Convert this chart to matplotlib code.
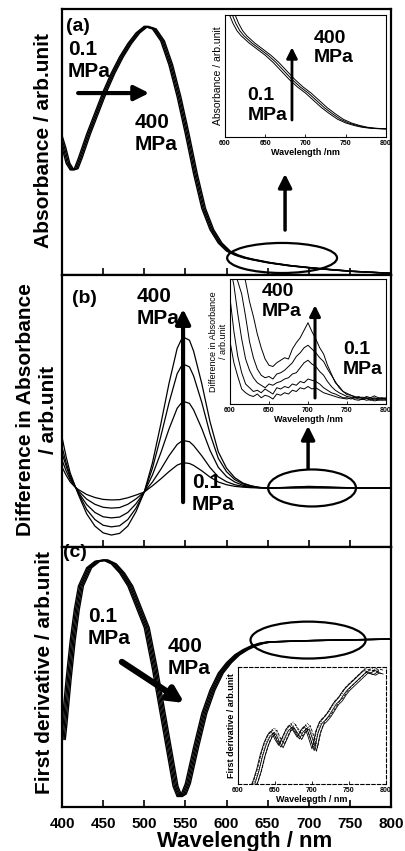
import numpy as np
import matplotlib
matplotlib.use("Agg")
import matplotlib.pyplot as plt
from matplotlib.patches import Ellipse

plt.rcParams['font.family'] = ['Liberation Sans', 'DejaVu Sans']
plt.rcParams['font.weight'] = 'bold'

# (a) absorbance spectrum at 0.1 MPa (arb. units)
wl_a = [395, 400, 405, 410, 415, 420, 430, 440, 450, 460, 470, 480, 490, 500,
        510, 520, 530, 540, 550, 560, 570, 580, 590, 600, 610, 620, 630, 640,
        650, 675, 700, 725, 750, 775, 800]
abs_a = [0.53, 0.48, 0.42, 0.395, 0.40, 0.44, 0.53, 0.61, 0.69, 0.76, 0.82,
         0.87, 0.91, 0.935, 0.925, 0.88, 0.79, 0.67, 0.53, 0.38, 0.25, 0.17,
         0.12, 0.09, 0.075, 0.065, 0.058, 0.052, 0.046, 0.035, 0.027, 0.02,
         0.014, 0.01, 0.006]
# red shift (nm) of each pressure step, 0.1 -> 400 MPa
shift_a = [0, 1.5, 3, 4.5]

# (a) inset, 600-800 nm tail
wl_a_ins = [600, 605, 610, 615, 620, 630, 640, 650, 660, 670, 680, 690, 700,
            710, 720, 730, 740, 750, 760, 770, 780, 790, 800]
abs_a_ins = [1.10, 1.01, 0.93, 0.87, 0.83, 0.77, 0.72, 0.67, 0.61, 0.54, 0.47,
             0.41, 0.36, 0.30, 0.24, 0.19, 0.145, 0.115, 0.095, 0.08, 0.072,
             0.068, 0.066]
shift_a_ins = [0, 3.5, 7]

# (b) difference spectra, one row per pressure step (400 MPa first)
wl_b = [400, 405, 410, 415, 420, 430, 440, 450, 460, 470, 480, 490, 500, 510,
        520, 530, 540, 545, 550, 555, 560, 570, 580, 590, 600, 610, 620, 630,
        640, 650, 670, 700, 730, 760, 800]
diff_b_p5 = [0.187, 0.115, 0.055, 0.015, -0.025, -0.095, -0.140, -0.165, -0.173,
             -0.167, -0.140, -0.087, -0.015, 0.093, 0.233, 0.383, 0.513, 0.545,
             0.551, 0.543, 0.503, 0.383, 0.243, 0.133, 0.073, 0.038, 0.018,
             0.008, 0.002, 0.0, 0.002, 0.006, 0.003, 0.0, 0.0]
diff_b_p4 = [0.151, 0.093, 0.045, 0.012, -0.020, -0.079, -0.116, -0.137, -0.143,
             -0.139, -0.116, -0.074, -0.015, 0.073, 0.188, 0.312, 0.420, 0.447,
             0.452, 0.445, 0.412, 0.314, 0.199, 0.109, 0.060, 0.031, 0.015,
             0.007, 0.002, 0.0, 0.0015, 0.0045, 0.002, 0.0, 0.0]
diff_b_p3 = [0.129, 0.080, 0.038, 0.010, -0.016, -0.061, -0.090, -0.106, -0.110,
             -0.107, -0.090, -0.058, -0.015, 0.048, 0.128, 0.216, 0.293, 0.312,
             0.316, 0.311, 0.287, 0.218, 0.138, 0.076, 0.042, 0.022, 0.010,
             0.005, 0.001, 0.0, 0.001, 0.003, 0.0015, 0.0, 0.0]
diff_b_p2 = [0.103, 0.063, 0.030, 0.008, -0.011, -0.041, -0.060, -0.071, -0.074,
             -0.072, -0.060, -0.040, -0.015, 0.022, 0.068, 0.118, 0.160, 0.171,
             0.173, 0.170, 0.156, 0.118, 0.075, 0.041, 0.023, 0.012, 0.006,
             0.003, 0.001, 0.0, 0.0005, 0.0015, 0.001, 0.0, 0.0]
diff_b_p1 = [0.077, 0.047, 0.022, 0.006, -0.006, -0.024, -0.035, -0.042, -0.044,
             -0.043, -0.036, -0.026, -0.015, 0.008, 0.033, 0.060, 0.084, 0.090,
             0.092, 0.090, 0.083, 0.063, 0.040, 0.022, 0.012, 0.006, 0.003,
             0.001, 0.0, 0.0, 0.0, 0.0005, 0.0, 0.0, 0.0]

# (b) inset, 600-800 nm
wl_b_ins = list(range(600, 801, 5))
diff_b_ins_p5 = [1.30, 1.25, 1.18, 1.10, 0.98, 0.82, 0.70, 0.56, 0.45, 0.36, 0.31,
                 0.30, 0.33, 0.35, 0.37, 0.36, 0.44, 0.49, 0.53, 0.59, 0.65, 0.58,
                 0.52, 0.45, 0.40, 0.31, 0.24, 0.17, 0.14, 0.10, 0.075, 0.07,
                 0.055, 0.05, 0.045, 0.06, 0.05, 0.065, 0.05, 0.045, 0.05]
diff_b_ins_p4 = [1.20, 1.10, 0.98, 0.88, 0.70, 0.50, 0.37, 0.28, 0.23, 0.21, 0.22,
                 0.20, 0.24, 0.25, 0.27, 0.30, 0.33, 0.38, 0.41, 0.45, 0.47, 0.44,
                 0.41, 0.37, 0.34, 0.28, 0.23, 0.18, 0.13, 0.10, 0.085, 0.07,
                 0.06, 0.05, 0.055, 0.045, 0.05, 0.04, 0.045, 0.05, 0.04]
diff_b_ins_p3 = [1.10, 0.95, 0.72, 0.52, 0.36, 0.27, 0.21, 0.17, 0.15, 0.13, 0.16,
                 0.15, 0.17, 0.18, 0.20, 0.21, 0.24, 0.25, 0.29, 0.33, 0.35, 0.32,
                 0.30, 0.26, 0.23, 0.18, 0.14, 0.11, 0.09, 0.075, 0.06, 0.055,
                 0.05, 0.06, 0.045, 0.05, 0.04, 0.05, 0.04, 0.045, 0.04]
diff_b_ins_p2 = [0.85, 0.58, 0.38, 0.25, 0.16, 0.13, 0.10, 0.11, 0.09, 0.12, 0.10,
                 0.08, 0.13, 0.12, 0.14, 0.13, 0.16, 0.15, 0.18, 0.17, 0.20, 0.19,
                 0.18, 0.16, 0.13, 0.11, 0.09, 0.08, 0.065, 0.05, 0.05, 0.04,
                 0.05, 0.04, 0.035, 0.045, 0.03, 0.04, 0.035, 0.03, 0.035]
diff_b_ins_p1 = [0.50, 0.33, 0.22, 0.12, 0.09, 0.07, 0.06, 0.08, 0.05, 0.07, 0.06,
                 0.04, 0.08, 0.07, 0.09, 0.08, 0.11, 0.10, 0.13, 0.12, 0.14, 0.12,
                 0.13, 0.11, 0.09, 0.08, 0.07, 0.06, 0.05, 0.045, 0.04, 0.05,
                 0.035, 0.03, 0.04, 0.03, 0.035, 0.025, 0.03, 0.035, 0.03]

# (c) first derivative at 0.1 MPa
wl_c = [398, 400, 405, 410, 415, 420, 430, 440, 450, 460, 470, 480, 490, 500,
        510, 520, 530, 535, 540, 545, 550, 560, 570, 580, 590, 600, 610, 620,
        630, 640, 650, 700, 750, 800]
der_c = [0.26, 0.32, 0.49, 0.64, 0.76, 0.85, 0.92, 0.945, 0.95, 0.935, 0.90,
         0.85, 0.77, 0.69, 0.53, 0.35, 0.17, 0.08, 0.04, 0.05, 0.09, 0.23, 0.36,
         0.45, 0.515, 0.555, 0.585, 0.605, 0.62, 0.63, 0.635, 0.64, 0.643,
         0.646]
shift_c = [0, 1.5, 3, 4.5, 6]

# (c) inset, 615-790 nm
wl_c_ins = [615, 620, 625, 630, 635, 640, 645, 650, 655, 660, 665, 670, 675,
            680, 685, 690, 695, 700, 705, 710, 715, 720, 725, 730, 735, 740,
            745, 750, 755, 760, 765, 770, 775, 780, 785, 790]
der_c_ins = [-0.05, 0.02, 0.12, 0.25, 0.35, 0.42, 0.45, 0.38, 0.33, 0.40, 0.47,
             0.50, 0.45, 0.40, 0.46, 0.49, 0.40, 0.30, 0.45, 0.53, 0.56, 0.60,
             0.65, 0.70, 0.73, 0.78, 0.82, 0.85, 0.88, 0.91, 0.94, 0.97, 0.96,
             0.95, 0.97, 0.96]
shift_c_ins = [0, 1.5, 3, 4.5, 6, 7.5]
offset_c_ins = [0.0, 0.015, -0.015, 0.03, -0.02, 0.01]
style_c_ins = ['-', '--', '-', ':', '-', '--']

xticks = [400, 450, 500, 550, 600, 650, 700, 750, 800]
ins_ticks = [600, 650, 700, 750, 800]

W, H = 406, 851


def box(x0, y0, x1, y1):
    # pixel box (left, top, right, bottom) -> figure fraction rect
    return [x0 / W, 1 - y1 / H, (x1 - x0) / W, (y1 - y0) / H]


def arrow(ax, tail, head, lw=3, ms=22):
    ax.annotate('', xy=head, xytext=tail, xycoords='axes fraction',
                textcoords='axes fraction',
                arrowprops=dict(arrowstyle='-|>', lw=lw, color='k',
                                shrinkA=0, shrinkB=0, mutation_scale=ms))


def label(ax, x, y, s, size=15):
    ax.text(x, y, s, transform=ax.transAxes, ha='left', va='top',
            fontsize=size, fontweight='bold', linespacing=1.2)


def ellipse(ax, cx, cy, w, h):
    ax.add_patch(Ellipse((cx, cy), w, h, transform=ax.transAxes,
                         fill=False, lw=1.6, ec='k', clip_on=False))


def style_main(ax, last=False):
    ax.set_xlim(400, 800)
    ax.set_xticks(xticks)
    ax.set_yticks([])
    for s in ax.spines.values():
        s.set_linewidth(1.6)
    ax.tick_params(axis='x', direction='in', length=5, width=1.2,
                   labelbottom=last, labelsize=11, pad=7)
    if last:
        for t in ax.get_xticklabels():
            t.set_fontweight('bold')


def style_inset(ax, xlabel, ylabel, ysize=6.5):
    ax.set_xlim(600, 800)
    ax.set_ylim(0, 1)
    ax.set_xticks(ins_ticks)
    ax.set_yticks([])
    for s in ax.spines.values():
        s.set_linewidth(0.8)
    ax.tick_params(axis='x', direction='in', length=2, width=0.6,
                   labelsize=5, pad=2)
    ax.set_xlabel(xlabel, fontsize=6.5, fontweight='bold', labelpad=1)
    ax.set_ylabel(ylabel, fontsize=ysize, fontweight='normal', labelpad=1.5)


fig = plt.figure(figsize=(W / 100, H / 100), dpi=100)

# ---------- (a)
ax_a = fig.add_axes(box(62, 9, 391, 275))
for s in shift_a:
    ax_a.plot(np.array(wl_a) + s, abs_a, color='k', lw=1.0)
ax_a.set_ylim(0, 1)
style_main(ax_a)
ax_a.text(0.012, 0.965, '(a)', transform=ax_a.transAxes, ha='left', va='top',
          fontsize=14, fontweight='bold')
label(ax_a, 0.018, 0.885, '0.1\nMPa')
arrow(ax_a, (0.049, 0.684), (0.265, 0.684))
label(ax_a, 0.222, 0.609, '400\nMPa')
ellipse(ax_a, 0.669, 0.064, 0.334, 0.113)
arrow(ax_a, (0.678, 0.169), (0.678, 0.38), lw=2.5, ms=20)

ins_a = fig.add_axes(box(225, 15, 386, 137))
for s in shift_a_ins:
    ins_a.plot(np.array(wl_a_ins) + s, abs_a_ins, color='k', lw=0.7)
style_inset(ins_a, 'Wavelength /nm', 'Absorbance / arb.unit', ysize=7.5)
label(ins_a, 0.55, 0.88, '400\nMPa', size=14)
label(ins_a, 0.14, 0.41, '0.1\nMPa', size=14)
arrow(ins_a, (0.416, 0.139), (0.416, 0.735), lw=2, ms=16)

# ---------- (b)
ax_b = fig.add_axes(box(62, 275, 391, 547))
for row in [diff_b_p5, diff_b_p4, diff_b_p3, diff_b_p2, diff_b_p1]:
    ax_b.plot(wl_b, row, color='k', lw=0.9)
ax_b.set_ylim(-0.217, 0.783)
style_main(ax_b)
ax_b.text(0.03, 0.945, '(b)', transform=ax_b.transAxes, ha='left', va='top',
          fontsize=14, fontweight='bold')
label(ax_b, 0.228, 0.956, '400\nMPa')
arrow(ax_b, (0.368, 0.165), (0.368, 0.875))
label(ax_b, 0.395, 0.272, '0.1\nMPa')
ellipse(ax_b, 0.760, 0.217, 0.267, 0.136)
arrow(ax_b, (0.748, 0.29), (0.748, 0.445), lw=2.5, ms=20)

ins_b = fig.add_axes(box(230, 279, 386, 404))
for row in [diff_b_ins_p5, diff_b_ins_p4, diff_b_ins_p3, diff_b_ins_p2,
            diff_b_ins_p1]:
    ins_b.plot(wl_b_ins, row, color='k', lw=0.7)
style_inset(ins_b, 'Wavelength /nm', 'Difference in Absorbance\n/ arb.unit')
label(ins_b, 0.205, 0.968, '400\nMPa', size=14)
label(ins_b, 0.724, 0.504, '0.1\nMPa', size=14)
arrow(ins_b, (0.545, 0.048), (0.545, 0.79), lw=2.2, ms=16)

# ---------- (c)
ax_c = fig.add_axes(box(62, 547, 391, 807))
for s in shift_c:
    ax_c.plot(np.array(wl_c) + s, der_c, color='k', lw=1.0)
ax_c.set_ylim(0, 1)
style_main(ax_c, last=True)
ax_c.text(0.003, 1.01, '(c)', transform=ax_c.transAxes, ha='left', va='top',
          fontsize=14, fontweight='bold')
label(ax_c, 0.079, 0.769, '0.1\nMPa')
label(ax_c, 0.322, 0.654, '400\nMPa')
arrow(ax_c, (0.182, 0.558), (0.372, 0.40), lw=4.5, ms=22)
ellipse(ax_c, 0.748, 0.642, 0.35, 0.142)

ins_c = fig.add_axes(box(238, 667, 386, 784))
for s, o, ls in zip(shift_c_ins, offset_c_ins, style_c_ins):
    ins_c.plot(np.array(wl_c_ins) + s, np.array(der_c_ins) + o, color='k',
               lw=0.6, ls=ls)
style_inset(ins_c, 'Wavelength / nm', 'First derivative / arb.unit')
ins_c.yaxis.label.set_fontweight('bold')
for side in ['top', 'right', 'bottom']:
    ins_c.spines[side].set_linestyle((0, (3, 2)))

# shared axis labels
fig.text(44 / W, 1 - 140 / H, 'Absorbance / arb.unit', rotation=90,
         ha='center', va='center', fontsize=15, fontweight='bold')
fig.text(37 / W, 1 - 410 / H, 'Difference in Absorbance\n/ arb.unit',
         rotation=90, ha='center', va='center', fontsize=15,
         fontweight='bold', linespacing=1.25)
fig.text(45 / W, 1 - 672 / H, 'First derivative / arb.unit', rotation=90,
         ha='center', va='center', fontsize=15, fontweight='bold')
fig.text(245 / W, 1 - 842 / H, 'Wavelength / nm', ha='center', va='center',
         fontsize=16, fontweight='bold')

fig.savefig('out.png', dpi=100)
